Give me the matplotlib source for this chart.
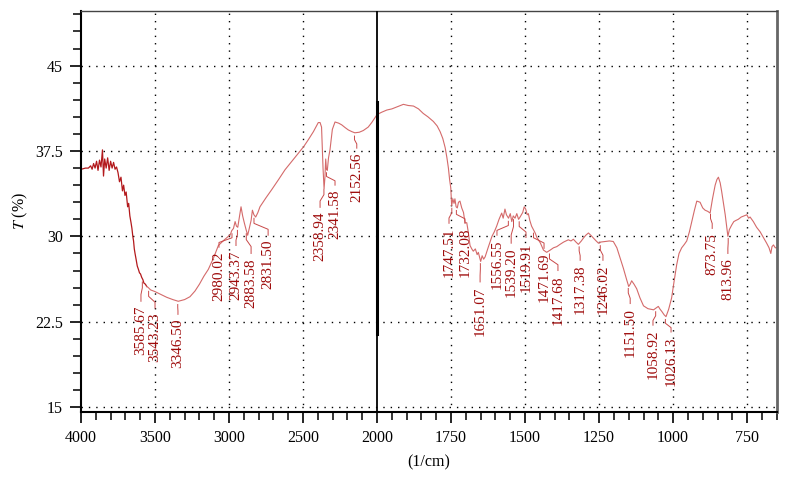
import numpy as np
import matplotlib
matplotlib.use('Agg')
import matplotlib.pyplot as plt

plt.rcParams['font.family'] = ['Liberation Serif', 'DejaVu Serif']
plt.rcParams['mathtext.fontset'] = 'stix'

# spectrum: wavenumber (1/cm) and transmittance (%)
wavenumber = [
    3998, 3970, 3950, 3935, 3925, 3915, 3905, 3895, 3885, 3875, 3865, 3855, 3848, 3840,
    3830, 3820, 3810, 3800, 3790, 3780, 3770, 3760, 3750, 3740, 3730, 3720, 3712, 3703,
    3695, 3685, 3678, 3670, 3662, 3656, 3650, 3645, 3640, 3635, 3628, 3620, 3612, 3605,
    3598, 3590, 3582, 3575, 3565, 3556, 3545, 3530, 3500, 3460, 3421, 3380, 3343, 3300,
    3264, 3230, 3200, 3170, 3140, 3105, 3072, 3040, 3005, 2990, 2982, 2970, 2959, 2950,
    2941, 2930, 2919, 2908, 2897, 2885, 2874, 2862, 2851, 2842, 2832, 2820, 2805, 2791,
    2750, 2712, 2665, 2622, 2575, 2532, 2495, 2464, 2430, 2397, 2385, 2375, 2365, 2358,
    2352, 2347, 2342, 2336, 2328, 2318, 2302, 2284, 2260, 2239, 2215, 2194, 2170, 2150,
    2120, 2093, 2060, 2036, 2010, 2000,
    1985, 1967, 1950, 1930, 1911, 1895, 1877, 1860, 1844, 1828, 1810, 1797, 1787, 1778,
    1770, 1764, 1759, 1755, 1751, 1748, 1744, 1740, 1737, 1733, 1729, 1725, 1720, 1714,
    1708, 1703, 1697, 1692, 1686, 1680, 1675, 1668, 1662, 1658, 1654, 1650, 1645, 1640,
    1635, 1625, 1612, 1604, 1596, 1588, 1579, 1574, 1568, 1563, 1556, 1550, 1545, 1540,
    1534, 1528, 1522, 1517, 1508, 1503, 1498, 1493, 1489, 1484, 1478, 1472, 1466, 1460,
    1455, 1448, 1438, 1427, 1415, 1404, 1393, 1382, 1370, 1354, 1345, 1337, 1328, 1320,
    1310, 1303, 1295, 1286, 1278, 1269, 1260, 1252, 1245, 1230, 1215, 1202, 1190, 1179,
    1168, 1157, 1150, 1145, 1140, 1132, 1123, 1112, 1100, 1085, 1066, 1058, 1050, 1044,
    1038, 1030, 1024, 1015, 1005, 997, 988, 980, 971, 962, 954, 945, 937, 928,
    920, 909, 900, 892, 883, 875, 867, 858, 852, 847, 841, 836, 830, 824,
    818, 815, 810, 802, 795, 788, 780, 770, 760, 751, 745, 740, 729, 718,
    706, 695, 684, 676, 670, 666, 661, 655, 650,
]
transmittance = [
    35.9, 36.0, 36.0, 36.2, 35.9, 36.4, 36.0, 36.6, 35.8, 36.7, 36.1, 37.6, 35.3, 36.8,
    36.0, 36.9, 35.8, 36.6, 36.0, 36.5, 35.9, 36.1, 35.6, 34.8, 35.2, 34.0, 34.5, 33.6,
    33.9, 32.6, 32.9, 31.8, 31.2, 30.7, 30.0, 29.6, 28.9, 28.5, 28.0, 27.4, 27.1, 26.8,
    26.7, 26.4, 26.2, 25.9, 25.8, 25.6, 25.5, 25.3, 25.15, 24.9, 24.65, 24.45, 24.3, 24.45,
    24.7, 25.2, 25.8, 26.5, 27.1, 28.1, 29.2, 29.6, 30.0, 30.2, 30.5, 30.7, 31.3, 30.9,
    30.8, 31.7, 32.6, 31.8, 31.2, 30.6, 30.1, 30.8, 31.4, 32.3, 31.9, 31.7, 32.1, 32.6,
    33.4, 34.1, 35.0, 35.85, 36.6, 37.3, 37.9, 38.5, 39.2, 40.0, 40.0, 39.6, 36.0, 34.2,
    35.2, 36.8, 35.9, 35.8, 36.9, 37.6, 39.4, 40.05, 39.95, 39.8, 39.55, 39.35, 39.2, 39.1,
    39.15, 39.3, 39.6, 40.0, 40.5, 40.7,
    40.9, 41.1, 41.2, 41.4, 41.6, 41.5, 41.45, 41.2, 40.8, 40.5, 40.1, 39.7, 39.2, 38.6,
    37.8, 36.9, 36.0, 35.0, 34.25, 32.7, 33.3, 32.9, 33.3, 32.6, 32.5, 33.0, 33.1, 32.5,
    32.1, 31.2, 31.2, 30.4, 29.2, 28.9, 28.7, 28.9, 28.4, 28.6, 28.2, 27.8, 28.3, 28.0,
    28.2, 29.0, 30.0, 30.4, 30.9, 31.5, 32.05, 31.6, 32.4, 31.9, 31.6, 32.0, 31.3, 31.8,
    31.6, 32.0, 31.5, 31.7, 32.1, 32.6, 32.4, 31.9, 32.0, 31.4, 30.9, 30.6, 30.3, 29.9,
    29.7, 29.4, 28.8, 28.6, 28.8, 29.0, 29.1, 29.3, 29.5, 29.7, 29.6, 29.75, 29.5, 29.3,
    29.6, 29.85, 30.1, 30.3, 30.1, 29.85, 29.6, 29.4, 29.5, 29.55, 29.6, 29.55, 29.0, 28.1,
    27.2, 26.2, 25.6, 25.8, 26.1, 25.8, 25.4, 24.6, 23.9, 23.65, 23.55, 23.7, 23.85, 23.6,
    23.4, 23.1, 22.95, 23.6, 24.6, 26.0, 27.5, 28.5, 29.0, 29.3, 29.6, 30.4, 31.3, 32.3,
    33.1, 33.0, 32.5, 32.3, 32.2, 32.05, 33.3, 34.5, 35.0, 35.2, 34.7, 33.95, 32.9, 31.9,
    30.6, 30.0, 30.6, 31.0, 31.3, 31.4, 31.5, 31.7, 31.8, 31.9, 31.6, 31.7, 31.3, 30.8,
    30.4, 29.9, 29.4, 29.0, 28.5, 29.1, 29.25, 29.0, 29.0,
]

peaks = [3585.67, 3543.23, 3346.50, 2980.02, 2943.37, 2883.58, 2831.50, 2358.94,
         2341.58, 2152.56, 1747.51, 1732.08, 1651.07, 1556.55, 1539.20, 1519.91,
         1471.69, 1417.68, 1317.38, 1246.02, 1151.50, 1058.92, 1026.13, 873.75, 813.96]

# label placement (x of text, top of text)
label_x = [3595, 3500, 3345, 3068, 2953, 2851, 2736, 2385, 2284, 2137,
           1757, 1703, 1652, 1595, 1547, 1497, 1436, 1389, 1314, 1237,
           1145, 1068, 1007, 868, 815]
label_top = [23.9, 23.3, 22.75, 28.65, 28.8, 28.1, 29.7, 32.15, 34.1, 37.35,
             30.75, 30.75, 25.6, 29.7, 29.0, 29.5, 28.55, 26.6, 27.5, 27.5,
             23.7, 21.8, 21.2, 30.3, 28.1]

xticks = [4000, 3500, 3000, 2500, 2000, 1750, 1500, 1250, 1000, 750]
yticks = [15, 22.5, 30, 37.5, 45]


def fwd(x):
    x = np.asarray(x, dtype=float)
    return np.where(x >= 2000, x, 2 * x - 2000)


def inv(u):
    u = np.asarray(u, dtype=float)
    return np.where(u >= 2000, u, (u + 2000) / 2)


wn = np.array(wavenumber)
tr = np.array(transmittance)

fig = plt.figure(figsize=(7.88, 4.78), dpi=100)
ax = fig.add_axes([0.1028, 0.1387, 0.8829, 0.8383])
ax.set_xscale('function', functions=(fwd, inv))

dark = wn >= 3556
ax.plot(wn[dark], tr[dark], color='#b3191c', lw=0.9)
light = wn <= 3556
ax.plot(wn[light], tr[light], color='#d46a6a', lw=0.8)

# peak labels with leader lines
for p, lx, ty in zip(peaks, label_x, label_top):
    sy = np.interp(p, wn[::-1], tr[::-1])
    y1 = sy - 0.3
    y4 = ty + 0.4
    d = y1 - y4
    ax.plot([p, p, lx, lx], [y1, y1 - 0.3 * d, y4 + 0.35 * d, y4],
            color='#c84848', lw=0.7)
    ax.text(lx, ty, f'{p:.2f}', rotation=90, ha='center', va='top',
            fontsize=11, color='#9e0b0b')

ax.axvline(2000, color='black', lw=1.3, zorder=3)
ax.plot([2000, 2000], [21.4, 41.8], color='black', lw=2.2, zorder=3)

ax.set_xlim(4000, 650)
ax.set_ylim(14.6, 49.8)
ax.set_xticks(xticks)
ax.set_xticklabels([str(t) for t in xticks])
minor_x = list(range(4000, 2000, -100)) + list(range(2000, 649, -50))
ax.set_xticks(minor_x, minor=True)
ax.set_yticks(yticks)
ax.set_yticklabels(['15', '22.5', '30', '37.5', '45'])
ax.set_yticks(np.arange(15, 49.6, 1.5), minor=True)

ax.tick_params(which='major', direction='out', length=8, width=1.2,
               labelsize=11.5, pad=5)
ax.tick_params(which='minor', direction='out', length=5.5, width=1.1)

for v in [3500, 3000, 2500, 1750, 1500, 1250, 1000, 750]:
    ax.axvline(v, color='black', lw=1.0, ls=(0, (1, 4.3)), zorder=0)
for v in yticks:
    ax.axhline(v, color='black', lw=1.0, ls=(0, (1, 4.3)), zorder=0)

ax.spines['left'].set_linewidth(1.5)
ax.spines['bottom'].set_linewidth(1.5)
ax.spines['top'].set_linewidth(1.0)
ax.spines['top'].set_color('#444444')
ax.spines['right'].set_linewidth(2.0)
ax.spines['right'].set_color('#666666')

ax.set_xlabel('(1/cm)', fontsize=11.5, labelpad=6)
ax.set_ylabel('$T$ (%)', fontsize=11.5, labelpad=4)

fig.savefig('out.png', dpi=100)
